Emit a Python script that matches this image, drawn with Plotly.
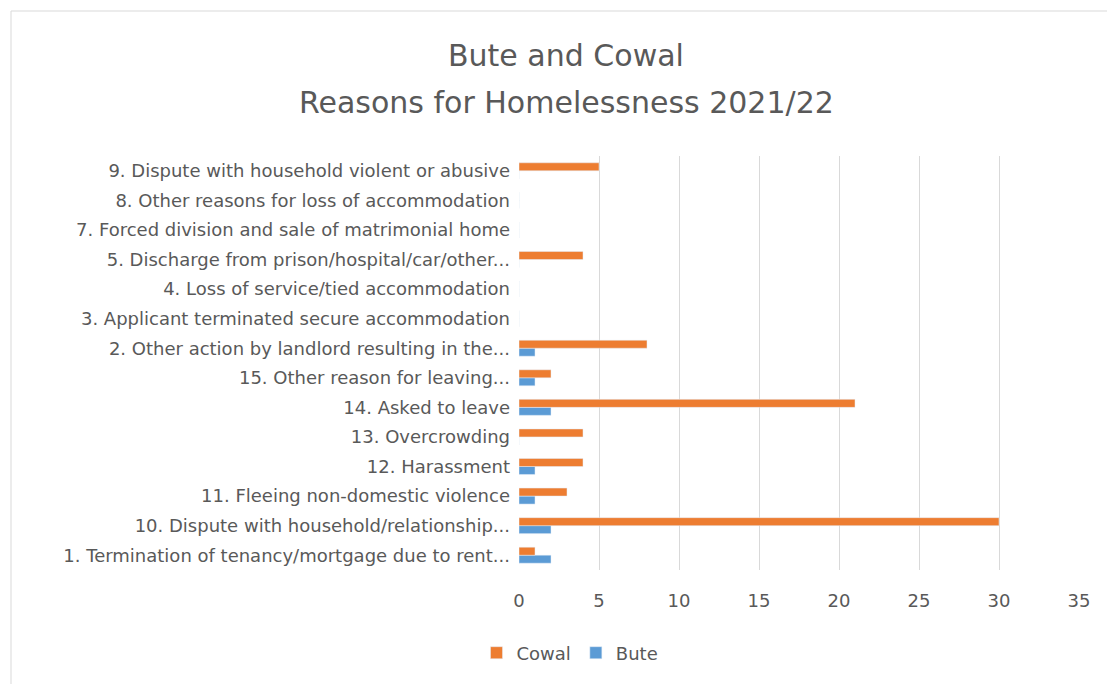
import plotly.graph_objects as go

categories = [
    "1. Termination of tenancy/mortgage due to rent...",
    "10. Dispute with household/relationship...",
    "11. Fleeing non-domestic violence",
    "12. Harassment",
    "13. Overcrowding",
    "14. Asked to leave",
    "15. Other reason for leaving...",
    "2. Other action by landlord resulting in the...",
    "3. Applicant terminated secure accommodation",
    "4. Loss of service/tied accommodation",
    "5. Discharge from prison/hospital/car/other...",
    "7. Forced division and sale of matrimonial home",
    "8. Other reasons for loss of accommodation",
    "9. Dispute with household violent or abusive",
]
cowal = [1, 30, 3, 4, 4, 21, 2, 8, 0, 0, 4, 0, 0, 5]
bute = [2, 2, 1, 1, 0, 2, 1, 1, 0, 0, 0, 0, 0, 0]
x_ticks = [0, 5, 10, 15, 20, 25, 30, 35]
title_lines = ["Bute and Cowal", "Reasons for Homelessness 2021/22"]

FONT = "DejaVu Sans"
TXT = "#595959"

fig = go.Figure()
fig.add_trace(go.Bar(y=categories, x=bute, orientation="h", name="Bute",
                     marker_color="#5b9bd5", legendrank=2))
fig.add_trace(go.Bar(y=categories, x=cowal, orientation="h", name="Cowal",
                     marker_color="#ed7d31", legendrank=1))

W, H = 1107, 684
L, R, T, B = 519, 28, 156, 114
pw, ph = W - L - R, H - T - B

def px(x):
    return (x - L) / pw

def py(y):
    return (H - B - y) / ph

annotations = []
for text, yc in zip(title_lines, [55, 102]):
    annotations.append(dict(text=text, xref="paper", yref="paper",
                            x=px(566), y=py(yc), xanchor="center",
                            yanchor="middle", showarrow=False,
                            font=dict(family=FONT, size=30, color=TXT)))

fig.update_layout(
    width=W, height=H,
    margin=dict(l=L, r=R, t=T, b=B),
    paper_bgcolor="white", plot_bgcolor="white",
    barmode="group", bargap=0.46, bargroupgap=0,
    font=dict(family=FONT, color=TXT, size=18),
    annotations=annotations,
    xaxis=dict(range=[0, 35], tickvals=x_ticks, showgrid=True,
               gridcolor="#d9d9d9", gridwidth=1, zeroline=False,
               showline=False, ticks="", ticklabelstandoff=18,
               tickfont=dict(size=18, color=TXT)),
    yaxis=dict(categoryorder="array", categoryarray=categories,
               showgrid=False, zeroline=False, showline=False, ticks="",
               ticklabelstandoff=8, tickfont=dict(size=18, color=TXT)),
    legend=dict(orientation="h", x=px(570), xanchor="center",
                y=py(653), yanchor="middle",
                font=dict(size=18, color=TXT)),
    shapes=[dict(type="rect", xref="paper", yref="paper",
                 x0=px(11), x1=px(1120), y0=py(700), y1=py(11),
                 line=dict(color="#d9d9d9", width=1), layer="below")],
)

fig.write_html("out.html")
